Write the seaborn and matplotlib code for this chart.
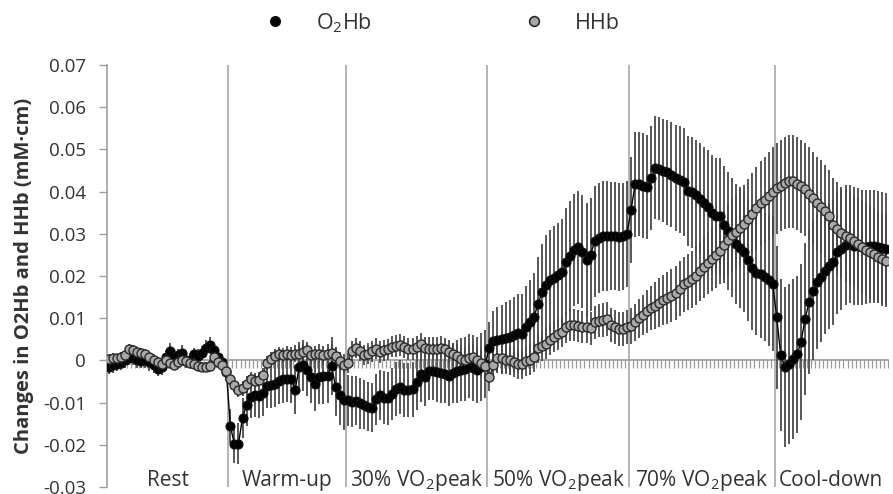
import numpy as np
import pandas as pd
import seaborn as sns
import matplotlib.pyplot as plt
from matplotlib.lines import Line2D
from matplotlib.ticker import FuncFormatter, MultipleLocator

# phase names and number of samples in each phase
phases = ['Rest', 'Warm-up', '30% VO$_\\mathregular{2}$peak', '50% VO$_\\mathregular{2}$peak',
          '70% VO$_\\mathregular{2}$peak', 'Cool-down']

# O2Hb means per phase
rest_o2hb = [-0.0016, -0.0012, -0.0008, -0.0005, 0.0002, 0.0006, 0.0008, 0.0002, -0.0002, 0.0001,
             -0.0004, -0.0012, -0.0020, -0.0016, 0.0008, 0.0022, 0.0008, 0.0012, 0.0018, 0.0002,
             0.0000, 0.0014, 0.0010, 0.0018, 0.0030, 0.0036, 0.0024, 0.0008, -0.0004, -0.0028]
warm_o2hb = [-0.0156, -0.0199, -0.0197, -0.0136, -0.0106, -0.0087, -0.0083, -0.0085, -0.0078, -0.0060,
             -0.0058, -0.0055, -0.0048, -0.0045, -0.0043, -0.0044, -0.0070, -0.0016, -0.0012, -0.0022,
             -0.0040, -0.0055, -0.0040, -0.0038, -0.0036, -0.0013, -0.0063, -0.0083, -0.0094]
p30_o2hb = [-0.0095, -0.0098, -0.0096, -0.0102, -0.0105, -0.0110, -0.0112, -0.0092, -0.0082, -0.0088,
            -0.0090, -0.0080, -0.0068, -0.0062, -0.0070, -0.0070, -0.0068, -0.0052, -0.0032, -0.0040,
            -0.0026, -0.0026, -0.0028, -0.0030, -0.0032, -0.0036, -0.0030, -0.0026, -0.0022, -0.0020,
            -0.0014, -0.0018, -0.0022, -0.0016, -0.0008]
p50_o2hb = [0.0030, 0.0046, 0.0048, 0.0050, 0.0054, 0.0056, 0.0060, 0.0066, 0.0062, 0.0078,
            0.0090, 0.0102, 0.0134, 0.0161, 0.0178, 0.0190, 0.0196, 0.0202, 0.0210, 0.0232,
            0.0248, 0.0262, 0.0268, 0.0258, 0.0238, 0.0250, 0.0282, 0.0290, 0.0294, 0.0295,
            0.0295, 0.0294, 0.0292, 0.0294, 0.0300]
p70_o2hb = [0.0356, 0.0417, 0.0418, 0.0414, 0.0410, 0.0432, 0.0456, 0.0454, 0.0450, 0.0446,
            0.0440, 0.0433, 0.0428, 0.0422, 0.0401, 0.0398, 0.0391, 0.0382, 0.0372, 0.0363,
            0.0350, 0.0343, 0.0341, 0.0322, 0.0306, 0.0291, 0.0276, 0.0267, 0.0258, 0.0238,
            0.0218, 0.0207, 0.0204, 0.0198, 0.0190, 0.0182]
cool_o2hb = [0.0102, 0.0012, -0.0016, -0.0008, 0.0004, 0.0014, 0.0043, 0.0098, 0.0138, 0.0165,
             0.0186, 0.0198, 0.0212, 0.0224, 0.0232, 0.0256, 0.0263, 0.0274, 0.0276, 0.0272,
             0.0270, 0.0268, 0.0268, 0.0270, 0.0270, 0.0268, 0.0266, 0.0264]

# HHb means per phase
rest_hhb = [0.0004, 0.0006, 0.0006, 0.0008, 0.0012, 0.0028, 0.0024, 0.0020, 0.0018, 0.0016,
            0.0008, 0.0002, -0.0004, -0.0008, 0.0000, -0.0006, -0.0010, -0.0004, 0.0000, -0.0002,
            -0.0006, -0.0008, -0.0014, -0.0016, -0.0016, -0.0014, 0.0008, -0.0004, -0.0012, -0.0024]
warm_hhb = [-0.0043, -0.0059, -0.0069, -0.0066, -0.0056, -0.0045, -0.0050, -0.0046, -0.0035, -0.0006,
            0.0004, 0.0010, 0.0014, 0.0012, 0.0016, 0.0012, 0.0016, 0.0016, 0.0020, 0.0024,
            0.0012, 0.0014, 0.0016, 0.0012, 0.0016, 0.0018, 0.0010, -0.0002, -0.0010]
p30_hhb = [-0.0006, 0.0022, 0.0030, 0.0022, 0.0012, 0.0016, 0.0022, 0.0028, 0.0020, 0.0024,
           0.0026, 0.0032, 0.0034, 0.0036, 0.0032, 0.0026, 0.0026, 0.0032, 0.0038, 0.0030,
           0.0028, 0.0028, 0.0028, 0.0030, 0.0026, 0.0020, 0.0014, 0.0010, 0.0004, 0.0002,
           0.0006, 0.0008, 0.0002, -0.0006, -0.0014]
p50_hhb = [-0.0039, -0.0012, 0.0006, 0.0006, 0.0002, 0.0000, -0.0004, -0.0008, -0.0008, -0.0002,
           0.0002, 0.0008, 0.0030, 0.0034, 0.0040, 0.0049, 0.0056, 0.0062, 0.0068, 0.0078,
           0.0084, 0.0084, 0.0082, 0.0080, 0.0080, 0.0076, 0.0090, 0.0094, 0.0096, 0.0098,
           0.0084, 0.0080, 0.0074, 0.0074, 0.0080]
p70_hhb = [0.0082, 0.0090, 0.0100, 0.0108, 0.0116, 0.0124, 0.0130, 0.0137, 0.0143, 0.0148,
           0.0153, 0.0159, 0.0170, 0.0180, 0.0186, 0.0192, 0.0201, 0.0211, 0.0221, 0.0231,
           0.0240, 0.0250, 0.0260, 0.0273, 0.0286, 0.0296, 0.0305, 0.0314, 0.0324, 0.0335,
           0.0348, 0.0360, 0.0373, 0.0381, 0.0389, 0.0399]
cool_hhb = [0.0408, 0.0414, 0.0421, 0.0424, 0.0424, 0.0419, 0.0413, 0.0405, 0.0395, 0.0384,
            0.0372, 0.0364, 0.0354, 0.0341, 0.0322, 0.0312, 0.0302, 0.0295, 0.0289, 0.0283,
            0.0276, 0.0269, 0.0262, 0.0257, 0.0252, 0.0245, 0.0240, 0.0236]

# standard deviations (error bars)
rest_o2hb_sd = [0.0016, 0.0018, 0.0016, 0.0018, 0.0020, 0.0016, 0.0018, 0.0020, 0.0016, 0.0018,
                0.0020, 0.0018, 0.0016, 0.0018, 0.0016, 0.0020, 0.0018, 0.0016, 0.0018, 0.0020,
                0.0018, 0.0016, 0.0018, 0.0016, 0.0018, 0.0020, 0.0018, 0.0016, 0.0018, 0.0020]
warm_o2hb_sd = [0.0040, 0.0045, 0.0048, 0.0048, 0.0050, 0.0050, 0.0052, 0.0052, 0.0054, 0.0054,
                0.0055, 0.0055, 0.0056, 0.0056, 0.0056, 0.0058, 0.0058, 0.0060, 0.0060, 0.0062,
                0.0062, 0.0064, 0.0064, 0.0066, 0.0066, 0.0068, 0.0068, 0.0070, 0.0070]
p30_o2hb_sd = [0.0060, 0.0060, 0.0058, 0.0060, 0.0058, 0.0058, 0.0058, 0.0060, 0.0060, 0.0062,
               0.0062, 0.0062, 0.0064, 0.0064, 0.0064, 0.0065, 0.0065, 0.0066, 0.0066, 0.0068,
               0.0068, 0.0068, 0.0070, 0.0070, 0.0070, 0.0072, 0.0072, 0.0074, 0.0074, 0.0076,
               0.0076, 0.0078, 0.0078, 0.0080, 0.0080]
p50_o2hb_sd = [0.0060, 0.0070, 0.0078, 0.0082, 0.0085, 0.0088, 0.0090, 0.0092, 0.0095, 0.0098,
               0.0100, 0.0105, 0.0110, 0.0115, 0.0118, 0.0120, 0.0122, 0.0124, 0.0126, 0.0128,
               0.0130, 0.0132, 0.0134, 0.0135, 0.0135, 0.0134, 0.0132, 0.0130, 0.0130, 0.0130,
               0.0128, 0.0128, 0.0128, 0.0126, 0.0126]
p70_o2hb_sd = [0.0125, 0.0125, 0.0124, 0.0124, 0.0123, 0.0123, 0.0122, 0.0122, 0.0123, 0.0124,
               0.0125, 0.0126, 0.0127, 0.0128, 0.0130, 0.0131, 0.0132, 0.0133, 0.0134, 0.0135,
               0.0136, 0.0137, 0.0138, 0.0139, 0.0140, 0.0141, 0.0142, 0.0143, 0.0144, 0.0145,
               0.0146, 0.0148, 0.0150, 0.0152, 0.0155, 0.0160]
cool_o2hb_sd = [0.0170, 0.0180, 0.0190, 0.0190, 0.0190, 0.0185, 0.0185, 0.0180, 0.0170, 0.0165,
                0.0160, 0.0155, 0.0150, 0.0150, 0.0148, 0.0146, 0.0144, 0.0142, 0.0140, 0.0140,
                0.0138, 0.0136, 0.0135, 0.0134, 0.0134, 0.0133, 0.0132, 0.0132]

rest_hhb_sd = [0.0010, 0.0012, 0.0010, 0.0012, 0.0012, 0.0010, 0.0012, 0.0010, 0.0012, 0.0010,
               0.0012, 0.0012, 0.0010, 0.0012, 0.0010, 0.0012, 0.0012, 0.0010, 0.0012, 0.0010,
               0.0012, 0.0012, 0.0010, 0.0012, 0.0012, 0.0014, 0.0014, 0.0012, 0.0014, 0.0014]
warm_hhb_sd = [0.0016, 0.0016, 0.0018, 0.0018, 0.0018, 0.0018, 0.0018, 0.0018, 0.0016, 0.0016,
               0.0016, 0.0018, 0.0018, 0.0018, 0.0018, 0.0020, 0.0020, 0.0020, 0.0020, 0.0020,
               0.0020, 0.0020, 0.0022, 0.0022, 0.0022, 0.0022, 0.0022, 0.0022, 0.0024]
p30_hhb_sd = [0.0024, 0.0024, 0.0024, 0.0024, 0.0024, 0.0025, 0.0025, 0.0025, 0.0025, 0.0025,
              0.0025, 0.0025, 0.0026, 0.0026, 0.0026, 0.0026, 0.0026, 0.0026, 0.0026, 0.0026,
              0.0027, 0.0027, 0.0027, 0.0027, 0.0028, 0.0028, 0.0028, 0.0029, 0.0029, 0.0030,
              0.0030, 0.0031, 0.0031, 0.0032, 0.0032]
p50_hhb_sd = [0.0034, 0.0034, 0.0034, 0.0035, 0.0035, 0.0035, 0.0035, 0.0035, 0.0035, 0.0036,
              0.0036, 0.0036, 0.0036, 0.0036, 0.0036, 0.0036, 0.0037, 0.0037, 0.0037, 0.0037,
              0.0038, 0.0038, 0.0038, 0.0038, 0.0038, 0.0039, 0.0039, 0.0039, 0.0040, 0.0040,
              0.0040, 0.0040, 0.0040, 0.0040, 0.0040]
p70_hhb_sd = [0.0042, 0.0044, 0.0046, 0.0048, 0.0050, 0.0052, 0.0055, 0.0058, 0.0060, 0.0062,
              0.0063, 0.0064, 0.0065, 0.0066, 0.0067, 0.0068, 0.0069, 0.0070, 0.0072, 0.0074,
              0.0076, 0.0078, 0.0080, 0.0082, 0.0084, 0.0086, 0.0088, 0.0090, 0.0092, 0.0094,
              0.0096, 0.0098, 0.0100, 0.0102, 0.0104, 0.0106]
cool_hhb_sd = [0.0108, 0.0108, 0.0109, 0.0110, 0.0110, 0.0110, 0.0110, 0.0110, 0.0110, 0.0110,
               0.0110, 0.0110, 0.0110, 0.0110, 0.0110, 0.0110, 0.0110, 0.0110, 0.0110, 0.0110,
               0.0110, 0.0110, 0.0110, 0.0110, 0.0110, 0.0110, 0.0110, 0.0110]

o2hb = rest_o2hb + warm_o2hb + p30_o2hb + p50_o2hb + p70_o2hb + cool_o2hb
hhb = rest_hhb + warm_hhb + p30_hhb + p50_hhb + p70_hhb + cool_hhb
o2hb_sd = rest_o2hb_sd + warm_o2hb_sd + p30_o2hb_sd + p50_o2hb_sd + p70_o2hb_sd + cool_o2hb_sd
hhb_sd = rest_hhb_sd + warm_hhb_sd + p30_hhb_sd + p50_hhb_sd + p70_hhb_sd + cool_hhb_sd
counts = [len(rest_o2hb), len(warm_o2hb), len(p30_o2hb), len(p50_o2hb), len(p70_o2hb), len(cool_o2hb)]

df = pd.DataFrame({'sample': np.arange(len(o2hb)), 'O2Hb': o2hb, 'HHb': hhb,
                   'O2Hb_sd': o2hb_sd, 'HHb_sd': hhb_sd})
n = len(df)

sns.set_style('white')
plt.rcParams['font.family'] = ['Open Sans', 'DejaVu Sans']
plt.rcParams['mathtext.fontset'] = 'custom'
plt.rcParams['mathtext.rm'] = 'Open Sans'
text_col = '#333333'
axis_col = '#a0a0a0'

fig, ax = plt.subplots(figsize=(8.93, 4.94), dpi=100)
fig.subplots_adjust(left=0.1198, right=0.9944, bottom=0.0142, top=0.8684)

# error bars first, then the two marker series on top
ax.errorbar(df['sample'], df['O2Hb'], yerr=df['O2Hb_sd'], fmt='none', ecolor='#4a4a4a',
            elinewidth=1.3, capsize=0, zorder=3)
ax.errorbar(df['sample'], df['HHb'], yerr=df['HHb_sd'], fmt='none', ecolor='#4a4a4a',
            elinewidth=1.3, capsize=0, zorder=3)
sns.lineplot(data=df, x='sample', y='O2Hb', ax=ax, color='black', lw=1.0, marker='o',
             markersize=6.5, markerfacecolor='black', markeredgecolor='#111111',
             markeredgewidth=0.8, zorder=4)
sns.lineplot(data=df, x='sample', y='HHb', ax=ax, color='#222222', lw=0.9, marker='o',
             markersize=6.5, markerfacecolor='#a8a8a8', markeredgecolor='#2a2a2a',
             markeredgewidth=1.0, zorder=5)

ax.set_xlim(-0.5, n - 0.5)
ax.set_ylim(-0.03, 0.07)

# phase separators as x grid, sample ticks hanging from the zero line
bounds = np.cumsum(counts)[:-1] - 0.5
ax.set_xticks(bounds)
ax.set_xticks(np.arange(n + 1) - 0.5, minor=True)
ax.xaxis.grid(True, which='major', color='#a8a8a8', lw=1.2)
ax.yaxis.grid(False)
ax.set_axisbelow(True)
ax.tick_params(axis='x', which='major', bottom=False, length=0, labelbottom=False)
ax.tick_params(axis='x', which='minor', bottom=True, length=6, width=0.9, color='#9a9a9a',
               direction='out')
ax.spines['bottom'].set_position(('data', 0))
ax.spines['bottom'].set_color('#9a9a9a')
ax.spines['bottom'].set_linewidth(1.2)
ax.spines['left'].set_color(axis_col)
ax.spines['left'].set_linewidth(1.2)
ax.spines['top'].set_visible(False)
ax.spines['right'].set_visible(False)

ax.yaxis.set_major_locator(MultipleLocator(0.01))
ax.yaxis.set_major_formatter(FuncFormatter(lambda v, pos: '0' if abs(v) < 1e-9 else f'{v:.2f}'))
ax.tick_params(axis='y', left=True, length=6, width=1.0, color=axis_col, direction='out',
               labelsize=13.5, labelcolor=text_col, pad=9)

ax.set_xlabel('')
ax.set_ylabel('Changes in O2Hb and HHb (mM\u00b7cm)', fontsize=14.5, fontweight='bold', color=text_col)
ax.yaxis.set_label_coords(-0.093, 0.5)

centers = np.cumsum(counts) - np.array(counts) / 2 - 0.5
for c, name in zip(centers, phases):
    ax.text(c, -0.0298, name, ha='center', va='baseline', fontsize=15, color=text_col)

handles = [Line2D([], [], ls='none', marker='o', ms=7, mfc='black', mec='#111111'),
           Line2D([], [], ls='none', marker='o', ms=7, mfc='#a8a8a8', mec='#2a2a2a', mew=1.2)]
fig.legend(handles, ['O$_\\mathregular{2}$Hb', 'HHb'], loc='center', bbox_to_anchor=(0.495, 0.954),
           ncol=2, frameon=False, fontsize=15.5, handlelength=1.0, handletextpad=1.4,
           columnspacing=7.0, labelcolor=text_col)

fig.savefig('out.png', dpi=100)
